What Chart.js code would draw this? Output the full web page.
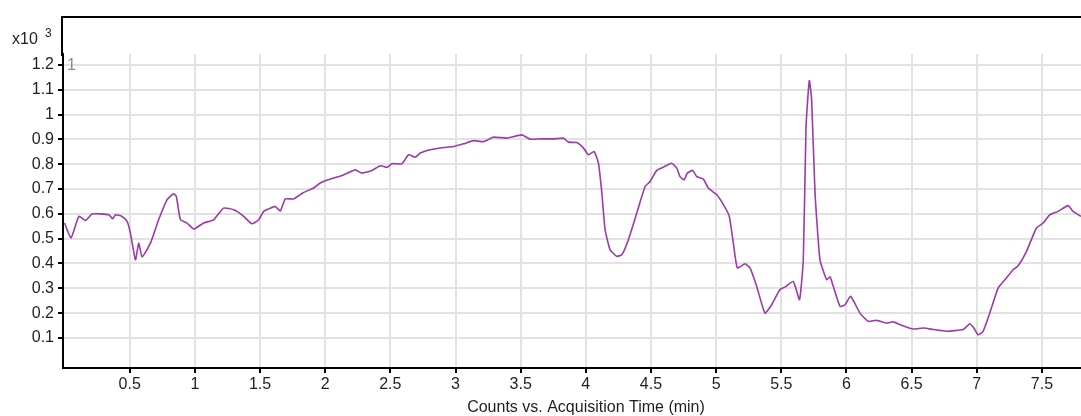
<!DOCTYPE html>
<html>
<head>
<meta charset="utf-8">
<script src="https://cdn.jsdelivr.net/npm/chart.js@4.4.1/dist/chart.umd.min.js"></script>
<style>
  html, body { margin: 0; padding: 0; background: #fff; }
  canvas { display: block; }
</style>
</head>
<body>
<canvas id="tic" width="1081" height="416"></canvas>
<script>
// Acquisition time (min) and counts (x10^3)
const times = [
  0.0, 0.05, 0.11, 0.16, 0.21, 0.275, 0.34, 0.37, 0.39, 0.44, 0.48, 0.505,
  0.544, 0.569, 0.595, 0.659, 0.722, 0.787, 0.837, 0.858, 0.889, 0.94, 0.991,
  1.067, 1.144, 1.22, 1.298, 1.362, 1.438, 1.49, 1.528, 1.579, 1.617, 1.656,
  1.694, 1.758, 1.834, 1.911, 1.962, 2.039, 2.141, 2.231, 2.282, 2.359, 2.423,
  2.474, 2.512, 2.589, 2.64, 2.691, 2.73, 2.807, 2.883, 2.985, 3.062, 3.138,
  3.215, 3.292, 3.394, 3.509, 3.573, 3.65, 3.752, 3.828, 3.867, 3.931, 3.982,
  4.02, 4.064, 4.097, 4.123, 4.148, 4.186, 4.237, 4.276, 4.327, 4.391, 4.455,
  4.493, 4.544, 4.595, 4.659, 4.698, 4.723, 4.754, 4.779, 4.82, 4.851, 4.902,
  4.94, 5.005, 5.056, 5.101, 5.132, 5.163, 5.222, 5.26, 5.311, 5.375, 5.426,
  5.49, 5.528, 5.592, 5.64, 5.669, 5.69, 5.715, 5.733, 5.759, 5.797, 5.848,
  5.874, 5.899, 5.951, 5.989, 6.032, 6.104, 6.167, 6.232, 6.308, 6.359, 6.41,
  6.512, 6.589, 6.666, 6.768, 6.896, 6.947, 6.978, 7.011, 7.049, 7.1, 7.164,
  7.228, 7.279, 7.318, 7.382, 7.458, 7.509, 7.56, 7.624, 7.701, 7.739, 7.8
];
const counts = [
  0.563, 0.503, 0.59, 0.573, 0.599, 0.60, 0.596, 0.58, 0.596, 0.59, 0.57, 0.523,
  0.415, 0.482, 0.426, 0.482, 0.576, 0.657, 0.681, 0.67, 0.576, 0.563, 0.539,
  0.563, 0.576, 0.623, 0.617, 0.596, 0.56, 0.576, 0.61, 0.623, 0.63, 0.612,
  0.66, 0.66, 0.686, 0.704, 0.724, 0.74, 0.757, 0.777, 0.764, 0.775, 0.794,
  0.787, 0.802, 0.802, 0.838, 0.828, 0.845, 0.858, 0.865, 0.871, 0.882, 0.895,
  0.891, 0.909, 0.905, 0.918, 0.901, 0.902, 0.902, 0.905, 0.889, 0.887, 0.865,
  0.838, 0.851, 0.804, 0.684, 0.536, 0.456, 0.429, 0.435, 0.496, 0.603, 0.71,
  0.73, 0.775, 0.788, 0.804, 0.784, 0.75, 0.737, 0.764, 0.775, 0.75, 0.74,
  0.704, 0.677, 0.637, 0.59, 0.482, 0.382, 0.399, 0.382, 0.308, 0.2, 0.234,
  0.295, 0.305, 0.328, 0.254, 0.415, 0.952, 1.137, 1.059, 0.684, 0.415, 0.335,
  0.346, 0.308, 0.227, 0.234, 0.268, 0.2, 0.167, 0.171, 0.16, 0.165, 0.154,
  0.136, 0.14, 0.134, 0.127, 0.134, 0.157, 0.14, 0.113, 0.127, 0.2, 0.301,
  0.342, 0.375, 0.391, 0.449, 0.543, 0.563, 0.596, 0.61, 0.633, 0.61, 0.59
];

const xTicks = [0.5, 1, 1.5, 2, 2.5, 3, 3.5, 4, 4.5, 5, 5.5, 6, 6.5, 7, 7.5];
const yTicks = [0.1, 0.2, 0.3, 0.4, 0.5, 0.6, 0.7, 0.8, 0.9, 1, 1.1, 1.2];

const xTitle = "Counts vs. Acquisition Time (min)";
const yExponent = ["x10", "3"];
const peakLabel = "1";

const FONT = "'Liberation Sans', Arial, sans-serif";
const TEXT = "#1e1e1e";
const GRID = "#e2e2e2";

// frame, exponent and title drawn around the plot area
const framePlugin = {
  id: "frame",
  afterDraw(chart) {
    const { ctx, chartArea } = chart;
    ctx.save();
    ctx.strokeStyle = "#000";
    ctx.lineWidth = 2;
    ctx.beginPath();
    ctx.moveTo(chartArea.left - 1, 17);
    ctx.lineTo(chart.width, 17);
    ctx.moveTo(chartArea.left - 1, 16);
    ctx.lineTo(chartArea.left - 1, chartArea.top + 2);
    ctx.stroke();

    ctx.fillStyle = TEXT;
    ctx.textBaseline = "alphabetic";
    ctx.font = "16px " + FONT;
    ctx.textAlign = "left";
    ctx.fillText(yExponent[0], 12, 44);
    ctx.font = "12px " + FONT;
    ctx.fillText(yExponent[1], 45, 37);

    ctx.font = "16px " + FONT;
    ctx.textAlign = "center";
    ctx.fillText(xTitle, 586, 412);

    ctx.fillStyle = "#8c8c8c";
    ctx.textAlign = "left";
    ctx.fillText(peakLabel, 67, 70);
    ctx.restore();
  }
};

new Chart(document.getElementById("tic"), {
  type: "line",
  data: {
    datasets: [{
      data: times.map((t, i) => ({ x: t, y: counts[i] })),
      borderColor: "#9b3aa8",
      borderWidth: 1.6,
      pointRadius: 0,
      tension: 0.15,
      fill: false
    }]
  },
  options: {
    responsive: false,
    animation: false,
    devicePixelRatio: 1,
    layout: { padding: { top: 54, left: 0, right: 0, bottom: 0 } },
    plugins: {
      legend: { display: false },
      tooltip: { enabled: false }
    },
    scales: {
      x: {
        type: "linear",
        min: -0.012,
        max: 7.8,
        afterFit: s => { s.height = 48; },
        afterBuildTicks: s => { s.ticks = xTicks.map(v => ({ value: v })); },
        ticks: {
          autoSkip: false,
          maxRotation: 0,
          padding: 2,
          color: TEXT,
          font: { family: FONT, size: 16 },
          callback: v => String(v)
        },
        grid: { color: GRID, lineWidth: 2, tickLength: 5, tickColor: "#000", tickWidth: 2 },
        border: { color: "#000", width: 2 }
      },
      y: {
        min: -0.021,
        max: 1.244,
        afterFit: s => { s.width = 63; },
        afterBuildTicks: s => { s.ticks = yTicks.map(v => ({ value: v })); },
        ticks: {
          autoSkip: false,
          padding: 4,
          color: TEXT,
          font: { family: FONT, size: 16 },
          callback: v => String(v)
        },
        grid: { color: GRID, lineWidth: 2, tickLength: 5, tickColor: "#000", tickWidth: 2 },
        border: { color: "#000", width: 2 }
      }
    }
  },
  plugins: [framePlugin]
});
</script>
</body>
</html>
